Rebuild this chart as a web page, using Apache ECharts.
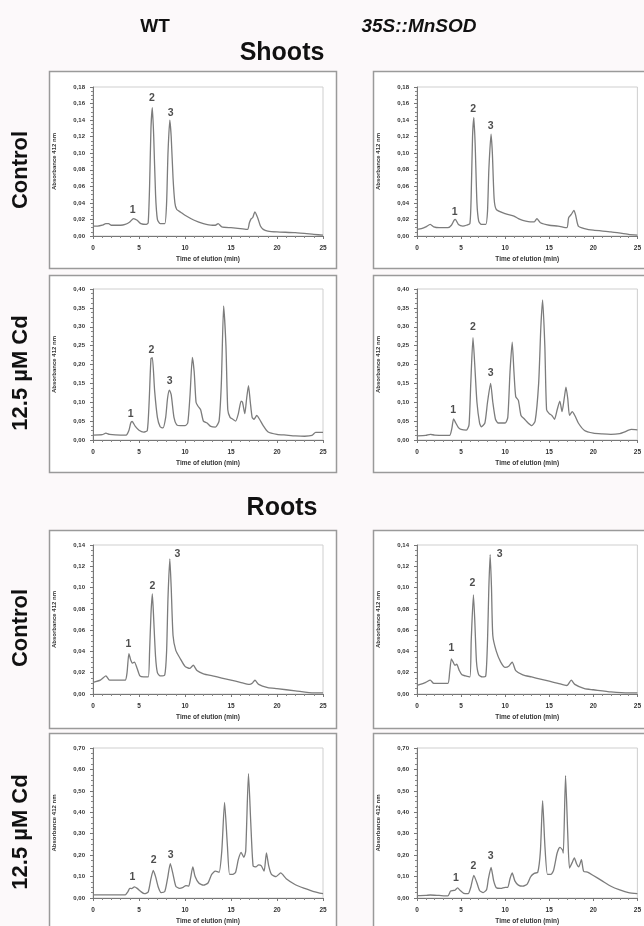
<!DOCTYPE html>
<html>
<head>
<meta charset="utf-8">
<script src="https://cdn.jsdelivr.net/npm/echarts@6/dist/echarts.min.js"></script>
<style>
html,body{margin:0;padding:0;background:#fcf9fa;}
#chart{width:644px;height:926px;}
</style>
</head>
<body>
<div id="chart"></div>
<script>
// ---- Data (time in min, absorbance at 412 nm) ----
const colTitles = ['WT', '35S::MnSOD'];
const sectionTitles = ['Shoots', 'Roots'];
const rowLabels = ['Control', '12.5 µM Cd', 'Control', '12.5 µM Cd'];
const xTicks = [0, 5, 10, 15, 20, 25];
const yMax = [0.18, 0.40, 0.14, 0.70];
const yStep = [0.02, 0.05, 0.02, 0.10];
const peakNames = ['1', '2', '3'];

const wtShootCtrl = [[0,0.012],[0.5,0.012],[1,0.013],[1.4,0.015],[1.7,0.015],[2,0.013],[3,0.013],[3.5,0.014],[4,0.017],[4.4,0.021],[4.8,0.019],[5.2,0.015],[5.8,0.014],[6.0,0.016],[6.15,0.06],[6.3,0.13],[6.45,0.155],[6.6,0.12],[6.8,0.05],[7.0,0.02],[7.3,0.015],[7.8,0.015],[8.0,0.04],[8.15,0.10],[8.35,0.140],[8.5,0.12],[8.7,0.07],[8.9,0.04],[9.1,0.032],[9.5,0.029],[10,0.025],[11,0.019],[12,0.015],[13,0.013],[13.3,0.013],[13.6,0.015],[14,0.011],[15,0.010],[16,0.009],[16.8,0.008],[17.0,0.016],[17.2,0.021],[17.35,0.022],[17.6,0.029],[17.9,0.022],[18.2,0.012],[18.5,0.008],[19,0.006],[20,0.005],[22,0.004],[24,0.002],[25,0.001]];
const mnShootCtrl = [[0,0.008],[0.5,0.009],[1,0.011],[1.5,0.014],[1.9,0.011],[2.5,0.010],[3.5,0.010],[3.9,0.013],[4.2,0.019],[4.35,0.020],[4.7,0.014],[5.2,0.012],[5.6,0.013],[6.0,0.015],[6.15,0.05],[6.3,0.12],[6.45,0.143],[6.6,0.11],[6.8,0.04],[7.0,0.018],[7.3,0.014],[7.8,0.014],[8.0,0.03],[8.15,0.08],[8.4,0.123],[8.55,0.10],[8.75,0.045],[9.0,0.032],[10,0.027],[11,0.024],[11.5,0.021],[12,0.019],[13,0.017],[13.3,0.017],[13.6,0.021],[14,0.016],[15,0.013],[16,0.012],[17,0.010],[17.2,0.022],[17.5,0.026],[17.8,0.031],[18.0,0.025],[18.3,0.012],[19,0.009],[20,0.007],[22,0.005],[24,0.002],[25,0.001]];
const wtShootCd = [[0,0.013],[1,0.014],[1.4,0.018],[1.8,0.015],[3,0.013],[3.6,0.013],[3.9,0.025],[4.1,0.045],[4.25,0.049],[4.6,0.036],[5,0.026],[5.5,0.021],[5.9,0.025],[6.1,0.1],[6.3,0.215],[6.45,0.218],[6.7,0.13],[7.0,0.06],[7.3,0.035],[7.6,0.032],[7.9,0.06],[8.1,0.11],[8.3,0.132],[8.5,0.12],[8.8,0.06],[9.1,0.04],[9.5,0.038],[10,0.038],[10.3,0.045],[10.55,0.12],[10.8,0.219],[11.0,0.18],[11.2,0.10],[11.4,0.09],[11.7,0.08],[12.0,0.05],[12.4,0.045],[12.8,0.036],[13.3,0.034],[13.7,0.05],[13.95,0.15],[14.2,0.355],[14.45,0.25],[14.65,0.08],[14.9,0.06],[15.2,0.055],[15.5,0.05],[15.8,0.07],[16.1,0.103],[16.25,0.1],[16.5,0.07],[16.7,0.11],[16.9,0.144],[17.1,0.1],[17.3,0.06],[17.5,0.055],[17.8,0.065],[18.1,0.055],[18.5,0.038],[19,0.022],[20,0.015],[21,0.013],[22,0.011],[23,0.010],[23.8,0.012],[24.2,0.020],[25,0.020]];
const mnShootCd = [[0,0.011],[1,0.012],[1.5,0.015],[2,0.013],[3,0.012],[3.7,0.012],[3.95,0.03],[4.15,0.056],[4.4,0.045],[4.7,0.033],[5.0,0.028],[5.6,0.026],[5.9,0.04],[6.1,0.15],[6.35,0.271],[6.55,0.2],[6.8,0.1],[7.1,0.045],[7.3,0.035],[7.7,0.045],[8.0,0.1],[8.35,0.150],[8.6,0.1],[8.9,0.055],[9.2,0.045],[10.0,0.045],[10.3,0.06],[10.55,0.18],[10.8,0.259],[11.0,0.18],[11.2,0.115],[11.5,0.105],[11.8,0.065],[12.2,0.055],[12.6,0.045],[13.0,0.038],[13.4,0.05],[13.8,0.15],[14.05,0.3],[14.25,0.371],[14.5,0.25],[14.7,0.08],[15.0,0.07],[15.3,0.065],[15.6,0.055],[15.9,0.08],[16.2,0.103],[16.45,0.075],[16.7,0.11],[16.9,0.140],[17.1,0.11],[17.3,0.065],[17.6,0.075],[17.9,0.065],[18.3,0.045],[19,0.025],[20,0.018],[21,0.016],[22,0.015],[23,0.017],[23.5,0.021],[24.3,0.028],[25,0.027]];
const wtRootCtrl = [[0,0.011],[0.8,0.013],[1.4,0.017],[1.8,0.013],[2.5,0.013],[3.5,0.013],[3.7,0.02],[3.9,0.038],[4.1,0.032],[4.3,0.029],[4.5,0.030],[4.8,0.024],[5.1,0.017],[5.5,0.016],[6.0,0.016],[6.15,0.04],[6.3,0.075],[6.45,0.094],[6.6,0.07],[6.8,0.035],[7.0,0.02],[7.3,0.017],[7.8,0.018],[8.0,0.04],[8.15,0.09],[8.35,0.127],[8.5,0.10],[8.7,0.055],[9.0,0.041],[9.5,0.033],[10,0.026],[10.5,0.024],[10.9,0.027],[11.3,0.022],[12,0.019],[13,0.017],[14,0.015],[15,0.013],[16,0.011],[17,0.009],[17.3,0.010],[17.6,0.013],[18,0.009],[19,0.006],[20,0.005],[22,0.003],[24,0.001],[25,0.001]];
const mnRootCtrl = [[0,0.008],[1,0.011],[1.5,0.013],[1.9,0.010],[2.5,0.010],[3.5,0.010],[3.7,0.02],[3.9,0.033],[4.1,0.030],[4.3,0.027],[4.5,0.028],[4.8,0.022],[5.1,0.018],[5.5,0.017],[6.0,0.016],[6.15,0.05],[6.4,0.093],[6.55,0.07],[6.75,0.03],[7.0,0.018],[7.4,0.016],[7.8,0.017],[8.0,0.05],[8.15,0.1],[8.3,0.131],[8.45,0.10],[8.6,0.055],[9.0,0.040],[9.5,0.030],[10,0.025],[10.4,0.026],[10.8,0.030],[11.2,0.022],[12,0.018],[13,0.016],[14,0.014],[15,0.012],[16,0.010],[17,0.008],[17.5,0.013],[17.9,0.009],[19,0.005],[20,0.004],[22,0.002],[24,0.001],[25,0.001]];
const wtRootCd = [[0,0.015],[2,0.015],[3.5,0.015],[3.8,0.03],[4.0,0.045],[4.2,0.044],[4.5,0.052],[4.8,0.045],[5.2,0.03],[5.6,0.02],[6.0,0.028],[6.3,0.09],[6.55,0.129],[6.8,0.1],[7.1,0.05],[7.4,0.025],[7.8,0.03],[8.1,0.09],[8.4,0.160],[8.7,0.11],[9.0,0.055],[9.4,0.045],[9.8,0.05],[10.1,0.058],[10.4,0.055],[10.6,0.09],[10.85,0.145],[11.1,0.1],[11.5,0.07],[12,0.06],[12.5,0.07],[12.9,0.11],[13.3,0.125],[13.7,0.12],[14.0,0.22],[14.3,0.446],[14.6,0.25],[14.85,0.11],[15.2,0.11],[15.5,0.12],[15.8,0.18],[16.1,0.213],[16.4,0.19],[16.6,0.22],[16.9,0.58],[17.15,0.35],[17.4,0.15],[17.7,0.145],[18.0,0.155],[18.3,0.15],[18.6,0.125],[18.85,0.21],[19.1,0.15],[19.4,0.11],[19.9,0.1],[20.4,0.117],[21,0.09],[22,0.062],[23,0.045],[24,0.030],[25,0.02]];
const mnRootCd = [[0,0.011],[1,0.012],[1.5,0.014],[2.5,0.012],[3.5,0.010],[3.8,0.032],[4.1,0.035],[4.3,0.036],[4.6,0.047],[4.9,0.035],[5.3,0.022],[5.8,0.02],[6.1,0.05],[6.45,0.106],[6.8,0.07],[7.1,0.035],[7.5,0.025],[7.9,0.04],[8.1,0.09],[8.4,0.143],[8.7,0.08],[9.0,0.048],[9.5,0.045],[10.0,0.05],[10.3,0.05],[10.55,0.09],[10.8,0.117],[11.1,0.08],[11.5,0.06],[12,0.055],[12.5,0.065],[12.9,0.1],[13.3,0.115],[13.7,0.12],[14.0,0.22],[14.25,0.454],[14.5,0.25],[14.8,0.11],[15.2,0.11],[15.5,0.13],[15.9,0.21],[16.2,0.236],[16.5,0.225],[16.6,0.21],[16.85,0.571],[17.1,0.3],[17.3,0.14],[17.6,0.165],[17.85,0.187],[18.1,0.16],[18.35,0.145],[18.65,0.179],[18.9,0.125],[19.4,0.12],[20.0,0.105],[21,0.08],[22,0.055],[23,0.038],[24,0.025],[25,0.02]];

// peak-number label anchor positions [time, absorbance] for peaks 1, 2, 3
const wtShootCtrlPeaks = [[4.3,0.031],[6.4,0.166],[8.45,0.149]];
const mnShootCtrlPeaks = [[4.28,0.029],[6.38,0.153],[8.37,0.133]];
const wtShootCdPeaks = [[4.1,0.068],[6.34,0.238],[8.33,0.156]];
const mnShootCdPeaks = [[4.1,0.079],[6.34,0.300],[8.37,0.177]];
const wtRootCtrlPeaks = [[3.84,0.047],[6.45,0.101],[9.17,0.131]];
const mnRootCtrlPeaks = [[3.9,0.043],[6.3,0.104],[9.38,0.131]];
const wtRootCdPeaks = [[4.28,0.096],[6.6,0.176],[8.44,0.199]];
const mnRootCdPeaks = [[4.42,0.093],[6.41,0.151],[8.37,0.194]];

// ---- Layout ----
const FONT = '"Liberation Sans", Arial, sans-serif';
const curves = [wtShootCtrl, mnShootCtrl, wtShootCd, mnShootCd, wtRootCtrl, mnRootCtrl, wtRootCd, mnRootCd];
const peaks = [wtShootCtrlPeaks, mnShootCtrlPeaks, wtShootCdPeaks, mnShootCdPeaks, wtRootCtrlPeaks, mnRootCtrlPeaks, wtRootCdPeaks, mnRootCdPeaks];
const plotLeft = [93, 417];
const plotW = 230;
const plotTop = [87, 289, 545, 748];
const plotH = [149, 151, 149, 150];
const boxLeft = [49, 373];
const boxW = [287, 300];
const boxTop = [71, 275, 530, 733];
const boxH = [197, 197, 198, 200];
const rowLabelY = [170, 373, 628, 832];

const grids = [], xAxes = [], yAxes = [], series = [], graphics = [];

for (let r = 0; r < 4; r++) {
  for (let c = 0; c < 2; c++) {
    const i = r * 2 + c;
    graphics.push({
      type: 'rect', z: -10,
      shape: { x: boxLeft[c] + 0.5, y: boxTop[r] + 0.5, width: boxW[c], height: boxH[r] },
      style: { fill: '#ffffff', stroke: '#9a9a9a', lineWidth: 1.5 }
    });
    grids.push({
      left: plotLeft[c], top: plotTop[r], width: plotW, height: plotH[r],
      show: true, borderColor: '#cfcfcf', borderWidth: 1, backgroundColor: 'transparent'
    });
    xAxes.push({
      type: 'value', gridIndex: i, min: xTicks[0], max: xTicks[xTicks.length - 1], interval: 5,
      name: 'Time of elution (min)', nameLocation: 'middle', nameGap: 20,
      nameTextStyle: { fontSize: 6.5, fontWeight: 'bold', color: '#333', fontFamily: FONT },
      axisLine: { show: true, lineStyle: { color: '#777', width: 1 } },
      axisTick: { show: true, length: 3, lineStyle: { color: '#777' } },
      minorTick: { show: true, splitNumber: 5, length: 2, lineStyle: { color: '#888' } },
      splitLine: { show: false },
      axisLabel: { fontSize: 6.5, fontWeight: 'bold', color: '#333', margin: 9, fontFamily: FONT }
    });
    yAxes.push({
      type: 'value', gridIndex: i, min: 0, max: yMax[r], interval: yStep[r],
      name: 'Absorbance 412 nm', nameLocation: 'middle', nameGap: 36, nameRotate: 90,
      nameTextStyle: { fontSize: 6, fontWeight: 'bold', color: '#333', fontFamily: FONT },
      axisLine: { show: true, lineStyle: { color: '#777', width: 1 } },
      axisTick: { show: true, length: 3, lineStyle: { color: '#777' } },
      minorTick: { show: true, splitNumber: 4, length: 2, lineStyle: { color: '#888' } },
      splitLine: { show: false },
      axisLabel: {
        fontSize: 6, fontWeight: 'bold', color: '#333', margin: 8, fontFamily: FONT,
        formatter: v => v.toFixed(2).replace('.', ',')
      }
    });
    series.push({
      type: 'line', xAxisIndex: i, yAxisIndex: i, data: curves[i],
      showSymbol: false, symbol: 'none', smooth: 0.2,
      lineStyle: { color: '#7c7c7c', width: 1.3 }, animation: false, z: 3
    });
    series.push({
      type: 'scatter', xAxisIndex: i, yAxisIndex: i,
      data: peaks[i].map((p, k) => ({ value: p, name: peakNames[k] })),
      symbolSize: 0, animation: false, silent: true, z: 4,
      label: {
        show: true, position: 'inside', formatter: p => p.name,
        fontSize: 10.5, fontWeight: 'bold', color: '#222', fontFamily: FONT
      }
    });
  }
  graphics.push({
    type: 'text', x: 21, y: rowLabelY[r], rotation: Math.PI / 2,
    style: { text: rowLabels[r], font: 'bold 22px ' + FONT, fill: '#111', align: 'center', verticalAlign: 'middle' }
  });
}

graphics.push(
  { type: 'text', x: 155, y: 27, style: { text: colTitles[0], font: 'bold 19px ' + FONT, fill: '#111', align: 'center', verticalAlign: 'middle' } },
  { type: 'text', x: 419, y: 27, style: { text: colTitles[1], font: 'italic bold 19px ' + FONT, fill: '#111', align: 'center', verticalAlign: 'middle' } },
  { type: 'text', x: 282, y: 53, style: { text: sectionTitles[0], font: 'bold 25px ' + FONT, fill: '#111', align: 'center', verticalAlign: 'middle' } },
  { type: 'text', x: 282, y: 508, style: { text: sectionTitles[1], font: 'bold 25px ' + FONT, fill: '#111', align: 'center', verticalAlign: 'middle' } }
);

const chart = echarts.init(document.getElementById('chart'), null, { renderer: 'canvas' });
chart.setOption({
  backgroundColor: '#fcf9fa',
  animation: false,
  grid: grids, xAxis: xAxes, yAxis: yAxes, series: series, graphic: graphics
});
</script>
</body>
</html>
